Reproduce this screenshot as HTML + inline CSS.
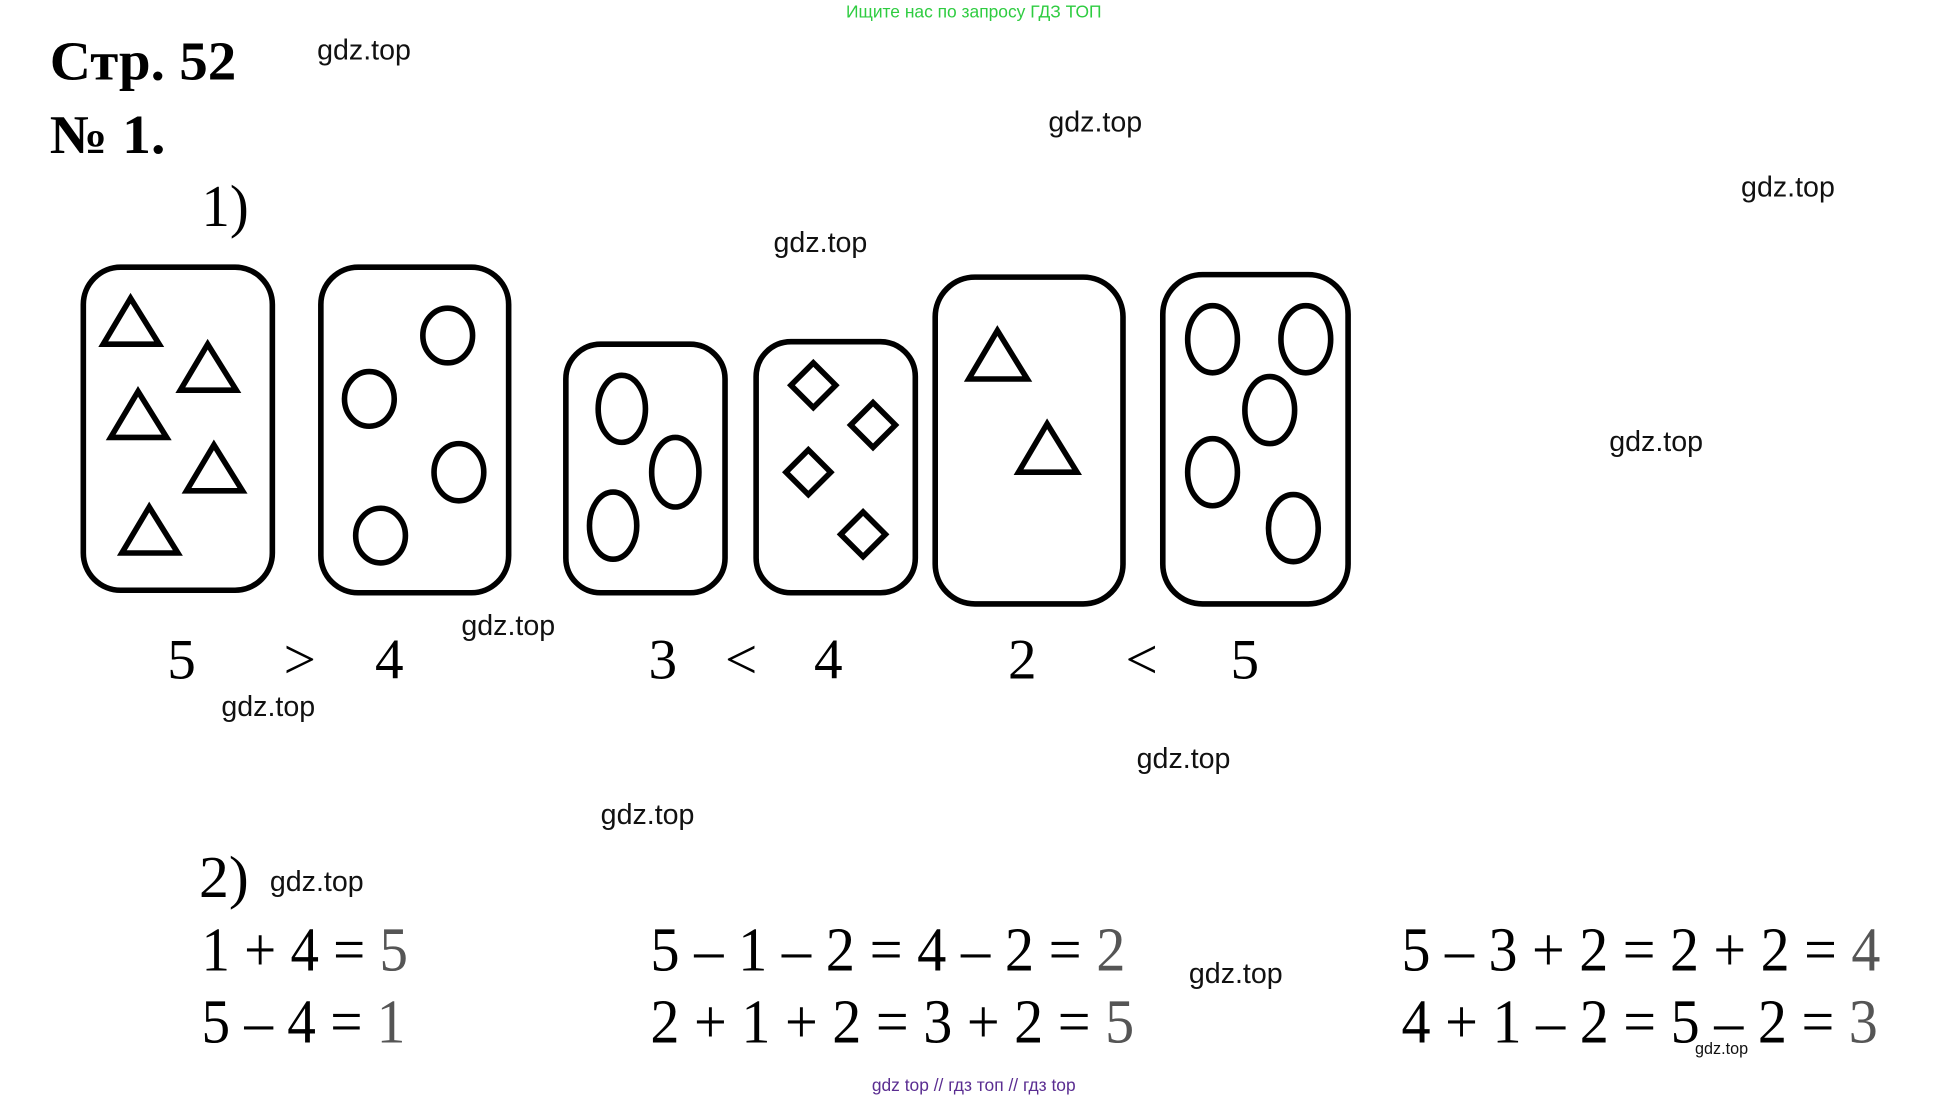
<!DOCTYPE html>
<html><head><meta charset="utf-8"><style>
html,body{margin:0;padding:0;background:#fff;}
svg{display:block;}
.g{font-family:"Liberation Sans",sans-serif;font-size:23px;fill:#111;}
.s{font-family:"Liberation Serif",serif;fill:#000;}
.e{font-family:"Liberation Serif",serif;font-size:50px;fill:#000;}
.gr{fill:#555;}
</style></head><body>
<svg width="1950" height="1101" viewBox="0 0 1568 886" preserveAspectRatio="none" xmlns="http://www.w3.org/2000/svg">
<text x="783" y="14" text-anchor="middle" font-family="Liberation Sans,Noto Sans CJK SC,sans-serif" font-size="14" fill="#2ecc40">Ищите нас по запросу ГДЗ ТОП</text>
<text class="s" x="40" y="64" font-size="44" font-weight="bold" textLength="150" lengthAdjust="spacingAndGlyphs">Стр. 52</text>
<text class="s" x="40" y="123" font-size="44" font-weight="bold" textLength="93" lengthAdjust="spacingAndGlyphs">№ 1.</text>
<text class="s" x="162" y="182" font-size="48" textLength="38" lengthAdjust="spacingAndGlyphs">1)</text>
<text class="s" x="160" y="722" font-size="48" textLength="40" lengthAdjust="spacingAndGlyphs">2)</text>

<g class="g">
<text x="255" y="48">gdz.top</text>
<text x="843" y="106">gdz.top</text>
<text x="1400" y="158">gdz.top</text>
<text x="622" y="203">gdz.top</text>
<text x="1294" y="363">gdz.top</text>
<text x="371" y="511">gdz.top</text>
<text x="178" y="576">gdz.top</text>
<text x="914" y="618">gdz.top</text>
<text x="483" y="663">gdz.top</text>
<text x="217" y="717">gdz.top</text>
<text x="956" y="791">gdz.top</text>
</g>
<text x="1363" y="848" font-family="Liberation Sans,sans-serif" font-size="13" fill="#111">gdz.top</text>

<g fill="none" stroke="#000" stroke-width="4.5">
<rect x="67" y="215" width="152" height="260" rx="30"/>
<rect x="258" y="215" width="151" height="262" rx="30"/>
<rect x="455" y="277" width="128" height="200" rx="28"/>
<rect x="608" y="275" width="128" height="202" rx="28"/>
<rect x="752" y="223" width="151" height="263" rx="32"/>
<rect x="935" y="221" width="149" height="265" rx="32"/>
<g stroke-width="4.5" stroke-linejoin="miter">
<polygon points="105,240 83,277 128,277"/>
<polygon points="167,277 145,314 190,314"/>
<polygon points="111,315 89,352 134,352"/>
<polygon points="172,358 150,395 195,395"/>
<polygon points="120,408 98,445 143,445"/>
<polygon points="802,266 779,305 826,305"/>
<polygon points="842,341 819,380 866,380"/>
<polygon points="654,292 672,310 654,328 636,310"/>
<polygon points="702,324 720,342 702,360 684,342"/>
<polygon points="650,362 668,380 650,398 632,380"/>
<polygon points="694,412 712,430 694,448 676,430"/>
</g>
<ellipse cx="360" cy="270" rx="20" ry="22"/>
<ellipse cx="297" cy="321" rx="20" ry="22"/>
<ellipse cx="369" cy="380" rx="20" ry="23"/>
<ellipse cx="306" cy="431" rx="20" ry="22"/>
<ellipse cx="500" cy="329" rx="19" ry="27"/>
<ellipse cx="543" cy="380" rx="19" ry="28"/>
<ellipse cx="493" cy="423" rx="19" ry="27"/>
<ellipse cx="975" cy="273" rx="20" ry="27"/>
<ellipse cx="1050" cy="273" rx="20" ry="27"/>
<ellipse cx="1021" cy="330" rx="20" ry="27"/>
<ellipse cx="975" cy="380" rx="20" ry="27"/>
<ellipse cx="1040" cy="425" rx="20" ry="27"/>
</g>

<g class="s" font-size="46" text-anchor="middle">
<text x="146" y="546">5</text><text x="241" y="546">&gt;</text><text x="313" y="546">4</text>
<text x="533" y="546">3</text><text x="596" y="546">&lt;</text><text x="666" y="546">4</text>
<text x="822" y="546">2</text><text x="918" y="546">&lt;</text><text x="1001" y="546">5</text>
</g>

<text class="e" x="162" y="781" textLength="166" lengthAdjust="spacingAndGlyphs">1 + 4 = <tspan class="gr">5</tspan></text>
<text class="e" x="523" y="781" textLength="382" lengthAdjust="spacingAndGlyphs">5 – 1 – 2 = 4 – 2 = <tspan class="gr">2</tspan></text>
<text class="e" x="1127" y="781" textLength="385" lengthAdjust="spacingAndGlyphs">5 – 3 + 2 = 2 + 2 = <tspan class="gr">4</tspan></text>
<text class="e" x="162" y="839" textLength="164" lengthAdjust="spacingAndGlyphs">5 – 4 = <tspan class="gr">1</tspan></text>
<text class="e" x="523" y="839" textLength="389" lengthAdjust="spacingAndGlyphs">2 + 1 + 2 = 3 + 2 = <tspan class="gr">5</tspan></text>
<text class="e" x="1127" y="839" textLength="383" lengthAdjust="spacingAndGlyphs">4 + 1 – 2 = 5 – 2 = <tspan class="gr">3</tspan></text>

<text x="783" y="878" text-anchor="middle" font-family="Liberation Sans,Noto Sans CJK SC,sans-serif" font-size="14" fill="#5a2d91">gdz top  //  гдз топ  //  гдз top</text>
</svg>
</body></html>
